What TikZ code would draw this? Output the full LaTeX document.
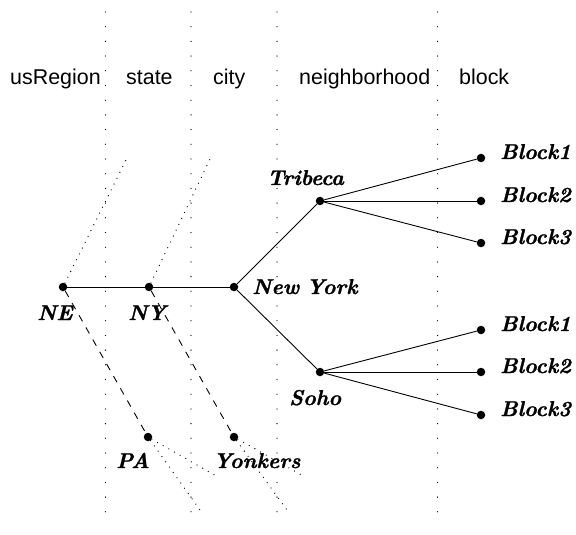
\documentclass[tikz,border=0pt]{standalone}
\usepackage{fontspec}
\newfontfamily\headfont{Liberation Sans}
\newfontfamily\lblfont[FakeBold=1.2]{lmroman10-bolditalic.otf}
\begin{document}
\begin{tikzpicture}[x=1bp,y=-1bp,
  dot/.style={circle,fill=black,inner sep=0pt,minimum size=8.5bp},
  lbl/.style={font=\lblfont\fontsize{21.5}{25}\selectfont,inner sep=0pt,anchor=base west},
  head/.style={font=\headfont\fontsize{21.5}{25}\selectfont,inner sep=0pt,anchor=base west},
  gridline/.style={line width=1.3bp,line cap=round,dash pattern=on 0bp off 14.7bp},
  fine/.style={line width=1.3bp,line cap=round,dash pattern=on 0bp off 6.5bp},
  dashline/.style={line width=0.9bp,dash pattern=on 7bp off 7bp},
  edge/.style={line width=0.9bp}]
\useasboundingbox (0,0) rectangle (576,535);
% column separators
\coordinate (g1t) at (105.5,12); \coordinate (g1b) at (105.5,525);
\coordinate (g2t) at (191,12);   \coordinate (g2b) at (191,525);
\coordinate (g3t) at (277,12);   \coordinate (g3b) at (277,525);
\coordinate (g4t) at (437.5,12); \coordinate (g4b) at (437.5,525);
\draw[gridline] (g1t) -- (g1b);
\draw[gridline] (g2t) -- (g2b);
\draw[gridline] (g3t) -- (g3b);
\draw[gridline] (g4t) -- (g4b);
% headings
\node[head] (h1) at (10,85) {usRegion};
\node[head] (h2) at (126,85) {state};
\node[head] (h3) at (213,85) {city};
\node[head] (h4) at (299,85) {neighborhood};
\node[head] (h5) at (459,85) {block};
% dots
\node[dot] (ne) at (63,287) {};
\node[dot] (ny) at (149,287) {};
\node[dot] (nyc) at (234,287) {};
\node[dot] (tri) at (320,201) {};
\node[dot] (soho) at (320,372) {};
\node[dot] (pa) at (148,437) {};
\node[dot] (yon) at (234,437) {};
\node[dot] (tb1) at (481,158) {};
\node[dot] (tb2) at (481,201) {};
\node[dot] (tb3) at (481,243) {};
\node[dot] (sb1) at (481,330) {};
\node[dot] (sb2) at (481,372) {};
\node[dot] (sb3) at (481,415) {};
% labels
\node[lbl] (lne) at (37,320) {NE};
\node[lbl] (lny) at (128,320) {NY};
\node[lbl] (lnyc) at (252,294) {New\hspace{-2bp} York};
\node[lbl] (ltri) at (267,185) {Tribeca};
\node[lbl] (lsoho) at (289,405) {Soho};
\node[lbl] (lpa) at (116,468) {PA};
\node[lbl] (lyon) at (213,468) {Yonkers};
\node[lbl] (ltb1) at (500,159) {Block1};
\node[lbl] (ltb2) at (500,202) {Block2};
\node[lbl] (ltb3) at (500,244) {Block3};
\node[lbl] (lsb1) at (500,331) {Block1};
\node[lbl] (lsb2) at (500,373) {Block2};
\node[lbl] (lsb3) at (500,416) {Block3};
% tree edges
\draw[edge] (ne) -- (ny);
\draw[edge] (ny) -- (nyc);
\draw[edge] (nyc) -- (tri);
\draw[edge] (nyc) -- (soho);
\draw[edge] (tri) -- (tb1);
\draw[edge] (tri) -- (tb2);
\draw[edge] (tri) -- (tb3);
\draw[edge] (soho) -- (sb1);
\draw[edge] (soho) -- (sb2);
\draw[edge] (soho) -- (sb3);
% dashed siblings
\draw[dashline] (ne) -- (pa);
\draw[dashline] (ny) -- (yon);
% dotted continuations
\coordinate (ne-up) at (126,160);
\coordinate (ny-up) at (211,157);
\coordinate (pa-a) at (200,510);
\coordinate (pa-b) at (218,477);
\coordinate (yon-a) at (287,510);
\coordinate (yon-b) at (305,477);
\draw[fine] (ne) -- (ne-up);
\draw[fine] (ny) -- (ny-up);
\draw[fine] (pa) -- (pa-a);
\draw[fine] (pa) -- (pa-b);
\draw[fine] (yon) -- (yon-a);
\draw[fine] (yon) -- (yon-b);
\end{tikzpicture}
\end{document}
